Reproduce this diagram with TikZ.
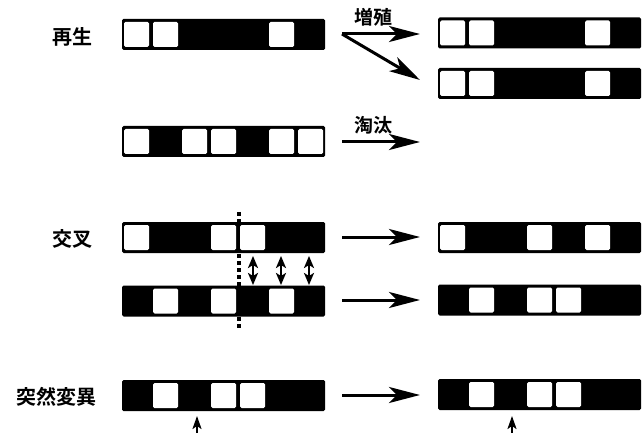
\documentclass[tikz,border=0pt]{standalone}
\usepackage{fontspec}
\newfontfamily\jpfont{Noto Sans CJK JP}[BoldFont={Noto Sans CJK JP Bold}]
\usetikzlibrary{arrows.meta}

% one chromosome: name, left x, centre y, list of 7 genes (1 = white cell)
\newcommand{\chromo}[4]{%
  \node[chrombar] (#1) at (#2+101.5,#3) {};
  \foreach \g [count=\k] in {#4} {%
    \ifnum\g=1
      \fill[white, rounded corners=1.5pt] (#2+29*\k-27,#3-12.5) rectangle ++(25,25);
    \fi
  }%
}

\tikzset{
  chrombar/.style={fill=black, rounded corners=1.5pt, minimum width=203pt,
    minimum height=31pt, inner sep=0pt, outer sep=0pt},
  lab/.style={font=\jpfont\bfseries\fontsize{20}{20}\selectfont, inner sep=0pt},
  oplab/.style={font=\jpfont\bfseries\fontsize{19}{19}\selectfont, inner sep=0pt},
  bigarrow/.style={line width=3pt, -{Stealth[length=31pt, width=16pt, inset=8pt]}},
  swaparrow/.style={line width=2.6pt,
    {Stealth[length=12pt, width=10pt, inset=3pt]}-{Stealth[length=12pt, width=10pt, inset=3pt]}},
  markarrow/.style={line width=2pt, -{Stealth[length=13pt, width=9pt, inset=3pt]}},
  cutline/.style={line width=3.4pt, dash pattern=on 3.5pt off 3.5pt},
}

\begin{document}
\begin{tikzpicture}[x=1pt, y=-1pt]
\useasboundingbox (0,0) rectangle (643,433);

% ---- labels on the left
\node[lab, anchor=east] (lregen) at (93,37) {再生};
\node[lab, anchor=east] (lcross) at (93,239) {交叉};
\node[lab, anchor=east] (lmut)   at (97,397) {突然変異};

% ---- crossover cut line (behind the chromosomes)
\coordinate (cuttop) at (239,212);
\coordinate (cutbot) at (239,328);
\draw[cutline] (cuttop) -- (cutbot);

% ---- reproduction
\chromo{rA}{122}{34.5}{1,1,0,0,0,1,0}
\chromo{rB}{438}{33}{1,1,0,0,0,1,0}
\chromo{rC}{438}{83.5}{1,1,0,0,0,1,0}
\chromo{sA}{122}{141.5}{1,0,1,1,0,1,1}

\coordinate (grow) at (342,34);
\coordinate (growA) at (420,34);
\coordinate (growB) at (420,80);
\draw[bigarrow] (grow) -- (growA);
\draw[bigarrow] (grow) -- (growB);
\node[oplab] (tgrow) at (373,17) {増殖};

\coordinate (sel) at (342,142);
\coordinate (selE) at (420,142);
\draw[bigarrow] (sel) -- (selE);
\node[oplab] (tsel) at (373,125) {淘汰};

% ---- crossover
\chromo{cA}{122}{237.5}{1,0,0,1,1,0,0}
\chromo{cB}{122}{301}{0,1,0,1,0,1,0}
\chromo{cC}{438}{237.5}{1,0,0,1,0,1,0}
\chromo{cD}{438}{300}{0,1,0,1,1,0,0}

\foreach \x [count=\n] in {253,281,309} {
  \coordinate (sw\n t) at (\x,256);
  \coordinate (sw\n b) at (\x,285);
  \draw[swaparrow] (sw\n t) -- (sw\n b);
}

\coordinate (cx1) at (342,237);
\coordinate (cx1E) at (420,237);
\coordinate (cx2) at (342,300);
\coordinate (cx2E) at (420,300);
\draw[bigarrow] (cx1) -- (cx1E);
\draw[bigarrow] (cx2) -- (cx2E);

% ---- mutation
\chromo{mA}{122}{395.5}{0,1,0,1,1,0,0}
\chromo{mB}{438}{394.5}{0,1,0,1,1,0,0}

\coordinate (mu) at (342,395);
\coordinate (muE) at (420,395);
\draw[bigarrow] (mu) -- (muE);

\coordinate (pA) at (197,434);
\coordinate (pAE) at (197,416);
\coordinate (pB) at (512,434);
\coordinate (pBE) at (512,416);
\draw[markarrow] (pA) -- (pAE);
\draw[markarrow] (pB) -- (pBE);
\end{tikzpicture}
\end{document}
